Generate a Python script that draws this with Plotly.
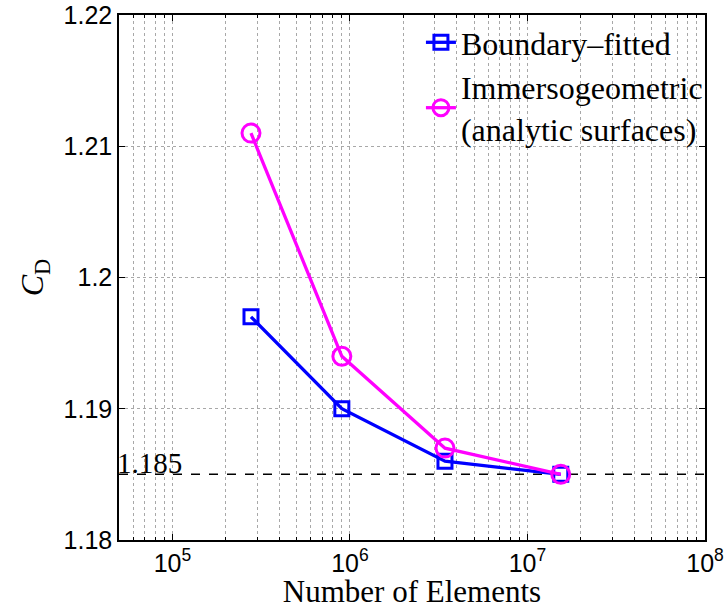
import math
import plotly.graph_objects as go

# Mesh sizes (number of elements) and drag coefficients
elements_bf = [2.77e5, 9.0e5, 3.43e6, 1.54e7]
cd_bf = [1.197, 1.190, 1.186, 1.185]

elements_ig = [2.77e5, 9.0e5, 3.43e6, 1.54e7]
cd_ig = [1.211, 1.194, 1.187, 1.185]

reference_cd = 1.185

y_ticks = [1.18, 1.19, 1.20, 1.21, 1.22]
y_tick_text = ["1.18", "1.19", "1.2", "1.21", "1.22"]
x_ticks = [1e5, 1e6, 1e7, 1e8]
x_tick_text = ["10<sup>5</sup>", "10<sup>6</sup>", "10<sup>7</sup>", "10<sup>8</sup>"]

x_min, x_max = 5e4, 1e8

serif = "Liberation Serif"
sans = "Liberation Sans"

fig = go.Figure()

# Reference value as a dashed horizontal line across the whole axis
fig.add_trace(go.Scatter(
    x=[x_min, x_max], y=[reference_cd, reference_cd],
    mode="lines", line=dict(color="black", width=1.5, dash="dash"),
    showlegend=False, hoverinfo="skip",
))

fig.add_trace(go.Scatter(
    x=elements_bf, y=cd_bf, mode="lines+markers",
    name="Boundary\u2013fitted",
    line=dict(color="#0000ff", width=3.3),
    marker=dict(symbol="square-open", size=14, color="#0000ff",
                line=dict(width=3, color="#0000ff")),
))

fig.add_trace(go.Scatter(
    x=elements_ig, y=cd_ig, mode="lines+markers",
    name="Immersogeometric<br>(analytic surfaces)",
    line=dict(color="#ff00ff", width=3.3),
    marker=dict(symbol="circle-open", size=18, color="#ff00ff",
                line=dict(width=3, color="#ff00ff")),
))

fig.add_annotation(
    x=math.log10(x_min), y=reference_cd, xref="x", yref="y",
    text=f"{reference_cd:.3f}", showarrow=False,
    xanchor="left", yanchor="bottom", yshift=-7, xshift=-4,
    font=dict(family=serif, size=29, color="black"),
)

grid = dict(showgrid=True, gridcolor="#a8a8a8", griddash="dot", gridwidth=1)

fig.update_xaxes(
    type="log", range=[math.log10(x_min), math.log10(x_max)],
    tickvals=x_ticks, ticktext=x_tick_text,
    tickfont=dict(family=sans, size=25, color="black"),
    ticks="inside", ticklen=6, tickcolor="black",
    showline=True, linecolor="black", linewidth=1.5, mirror="ticks",
    minor=dict(dtick="D1", ticks="inside", ticklen=3, tickcolor="black",
               showgrid=True, gridcolor="#a8a8a8", griddash="dot", gridwidth=1),
    title=dict(text="Number of Elements", font=dict(family=serif, size=31, color="black"),
               standoff=0),
    automargin=False,
    zeroline=False,
    **grid,
)

fig.update_yaxes(
    range=[1.18, 1.22], tickvals=y_ticks, ticktext=y_tick_text,
    tickfont=dict(family=sans, size=25, color="black"),
    ticks="inside", ticklen=6, tickcolor="black",
    showline=True, linecolor="black", linewidth=1.5, mirror="ticks",
    title=dict(text="<i>C</i><sub>D</sub>", font=dict(family=serif, size=32, color="black"),
               standoff=10),
    automargin=False,
    zeroline=False,
    **grid,
)

fig.update_layout(
    width=727, height=609,
    margin=dict(l=119, r=22, t=15, b=69),
    paper_bgcolor="white", plot_bgcolor="white",
    legend=dict(x=1.005, y=1.0, xanchor="right", yanchor="top",
                bgcolor="rgba(0,0,0,0)", borderwidth=0,
                font=dict(family=serif, size=32, color="black"),
                itemwidth=30, tracegroupgap=0),
    showlegend=True,
)

fig.write_html("out.html")
